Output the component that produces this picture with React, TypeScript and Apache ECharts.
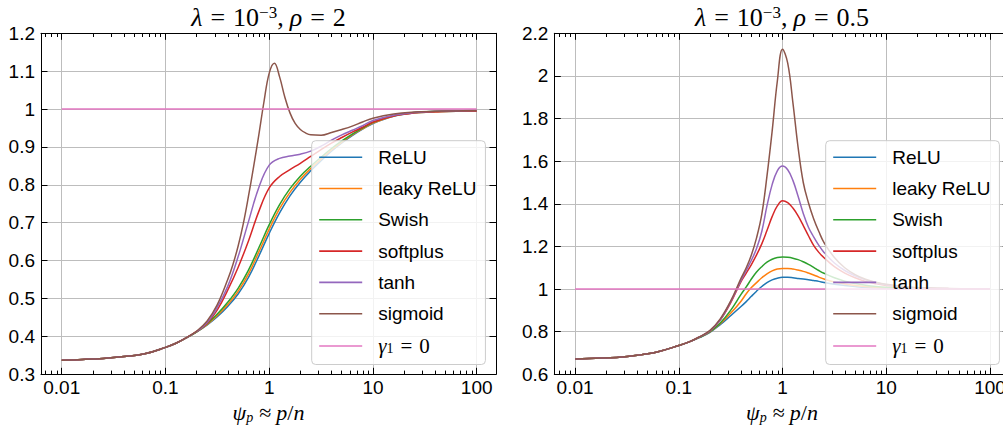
import React, { useEffect, useRef } from 'react';
import * as echarts from 'echarts';

// ---------- data ----------
const names = ['ReLU', 'leaky ReLU', 'Swish', 'softplus', 'tanh', 'sigmoid', 'γ1 = 0'];
const colors = ['#1f77b4', '#ff7f0e', '#2ca02c', '#d62728', '#9467bd', '#8c564b', '#e377c2'];

// psi sample points (coarse grid and fine grid around psi = 1)
const psiCoarse = [0.01, 0.0158, 0.0251, 0.0398, 0.0631, 0.1, 0.126, 0.158, 0.2, 0.251, 0.316, 0.398, 0.501, 0.631, 0.794, 1, 1.259, 1.585, 1.995, 2.512, 3.162, 3.981, 5.012, 6.31, 7.943, 10, 15.85, 25.12, 39.81, 63.1, 100];
const psiFine = [0.01, 0.0158, 0.0251, 0.0398, 0.0631, 0.1, 0.126, 0.158, 0.2, 0.251, 0.316, 0.398, 0.447, 0.501, 0.562, 0.631, 0.708, 0.794, 0.891, 1, 1.122, 1.259, 1.413, 1.585, 1.778, 1.995, 2.239, 2.512, 3.162, 3.981, 5.012, 6.31, 7.943, 10, 15.85, 25.12, 39.81, 63.1, 100];

// left panel: rho = 2 (coarse grid, sigmoid on fine grid)
const reluL = [0.337, 0.339, 0.342, 0.347, 0.354, 0.371, 0.382, 0.396, 0.412, 0.43, 0.452, 0.479, 0.512, 0.556, 0.612, 0.672, 0.726, 0.771, 0.807, 0.837, 0.864, 0.889, 0.911, 0.93, 0.947, 0.962, 0.981, 0.99, 0.993, 0.994, 0.995];
const leakyL = [0.337, 0.339, 0.342, 0.347, 0.354, 0.371, 0.382, 0.396, 0.412, 0.431, 0.455, 0.484, 0.519, 0.565, 0.623, 0.683, 0.737, 0.78, 0.815, 0.843, 0.868, 0.892, 0.913, 0.932, 0.948, 0.963, 0.982, 0.99, 0.993, 0.994, 0.995];
const swishL = [0.337, 0.339, 0.342, 0.347, 0.354, 0.371, 0.382, 0.396, 0.412, 0.433, 0.459, 0.49, 0.527, 0.575, 0.634, 0.695, 0.748, 0.79, 0.823, 0.849, 0.873, 0.896, 0.916, 0.934, 0.95, 0.965, 0.983, 0.991, 0.994, 0.995, 0.996];
const softplusL = [0.337, 0.339, 0.342, 0.347, 0.354, 0.371, 0.382, 0.396, 0.413, 0.434, 0.47, 0.522, 0.582, 0.652, 0.73, 0.792, 0.822, 0.84, 0.857, 0.875, 0.893, 0.91, 0.925, 0.939, 0.952, 0.966, 0.982, 0.99, 0.993, 0.995, 0.995];
const tanhL = [0.337, 0.339, 0.342, 0.347, 0.354, 0.371, 0.382, 0.396, 0.413, 0.436, 0.477, 0.532, 0.61, 0.703, 0.793, 0.852, 0.87, 0.876, 0.881, 0.889, 0.902, 0.918, 0.932, 0.944, 0.956, 0.97, 0.984, 0.991, 0.994, 0.995, 0.996];
const sigmoidL = [0.337, 0.339, 0.342, 0.347, 0.354, 0.371, 0.382, 0.396, 0.414, 0.44, 0.484, 0.55, 0.59, 0.638, 0.697, 0.77, 0.849, 0.932, 1.02, 1.095, 1.121, 1.085, 1.032, 0.99, 0.962, 0.946, 0.937, 0.932, 0.931, 0.938, 0.946, 0.955, 0.966, 0.976, 0.987, 0.992, 0.994, 0.995, 0.996];

// right panel: rho = 0.5 (fine grid)
const reluR = [0.672, 0.675, 0.679, 0.689, 0.706, 0.735, 0.752, 0.772, 0.797, 0.833, 0.875, 0.918, 0.941, 0.966, 0.99, 1.012, 1.03, 1.043, 1.051, 1.055, 1.055, 1.053, 1.05, 1.047, 1.044, 1.04, 1.036, 1.031, 1.023, 1.017, 1.012, 1.008, 1.006, 1.004, 1.002, 1.001, 1.0, 1.0, 1.0];
const leakyR = [0.672, 0.675, 0.679, 0.689, 0.706, 0.735, 0.752, 0.773, 0.799, 0.837, 0.886, 0.943, 0.978, 1.007, 1.03, 1.053, 1.071, 1.085, 1.094, 1.097, 1.097, 1.094, 1.089, 1.083, 1.075, 1.066, 1.056, 1.047, 1.033, 1.024, 1.017, 1.012, 1.009, 1.006, 1.003, 1.001, 1.0, 1.0, 1.0];
const swishR = [0.672, 0.675, 0.679, 0.689, 0.706, 0.735, 0.752, 0.773, 0.8, 0.841, 0.9, 0.975, 1.01, 1.047, 1.08, 1.105, 1.126, 1.14, 1.148, 1.15, 1.149, 1.145, 1.138, 1.128, 1.116, 1.102, 1.087, 1.074, 1.053, 1.037, 1.026, 1.018, 1.012, 1.008, 1.004, 1.002, 1.001, 1.0, 1.0];
const softplusR = [0.672, 0.675, 0.679, 0.689, 0.706, 0.735, 0.752, 0.775, 0.803, 0.854, 0.935, 1.035, 1.075, 1.115, 1.16, 1.212, 1.275, 1.34, 1.39, 1.414, 1.405, 1.38, 1.343, 1.298, 1.25, 1.205, 1.172, 1.147, 1.105, 1.075, 1.053, 1.036, 1.025, 1.017, 1.008, 1.004, 1.002, 1.001, 1.0];
const tanhR = [0.672, 0.675, 0.679, 0.689, 0.706, 0.735, 0.752, 0.775, 0.804, 0.856, 0.94, 1.04, 1.088, 1.135, 1.19, 1.27, 1.39, 1.49, 1.555, 1.577, 1.56, 1.51, 1.435, 1.355, 1.29, 1.245, 1.205, 1.172, 1.122, 1.087, 1.062, 1.043, 1.03, 1.02, 1.009, 1.004, 1.002, 1.001, 1.0];
const sigmoidR = [0.672, 0.675, 0.679, 0.689, 0.706, 0.735, 0.752, 0.776, 0.806, 0.86, 0.943, 1.05, 1.1, 1.16, 1.24, 1.35, 1.53, 1.74, 1.975, 2.125, 2.06, 1.875, 1.665, 1.5, 1.405, 1.33, 1.27, 1.218, 1.148, 1.1, 1.068, 1.046, 1.032, 1.022, 1.01, 1.005, 1.002, 1.001, 1.0];

// gamma_1 = 0 reference line
const gammaPsi = [0.01, 100];
const gammaY = [1, 1];

// axes
const xMin = 0.00631;
const xMax = 153.5;
const majorX = [0.01, 0.1, 1, 10, 100];
const minorX = [0.007, 0.008, 0.009, 0.02, 0.03, 0.04, 0.05, 0.06, 0.07, 0.08, 0.09, 0.2, 0.3, 0.4, 0.5, 0.6, 0.7, 0.8, 0.9, 2, 3, 4, 5, 6, 7, 8, 9, 20, 30, 40, 50, 60, 70, 80, 90];
const yLeft = { min: 0.3, max: 1.2, interval: 0.1 };
const yRight = { min: 0.6, max: 2.2, interval: 0.2 };

const titles = [
  '{i|λ}{eq|=}{n|10}{s|−3}{n|,}{i2|ρ}{eq|=}{n|2}',
  '{i|λ}{eq|=}{n|10}{s|−3}{n|,}{i2|ρ}{eq|=}{n|0.5}',
];
const xName = '{i|ψ}{b|p}{eq|≈}{i|p}{n|/}{i|n}';

// ---------- styling ----------
const SANS = '"Liberation Sans", Arial, sans-serif';
const SERIF = '"Liberation Serif", "DejaVu Serif", serif';
const BLACK = '#000';
const GRID_COLOR = '#bdbdbd';

const grids = [
  { left: 41, top: 33.3, width: 455, height: 341 },
  { left: 554.3, top: 33.3, width: 455, height: 341 },
];

function buildOption() {
  const xAxis: any[] = [];
  const yAxis: any[] = [];
  const series: any[] = [];
  const legend: any[] = [];
  const graphic: any[] = [];

  const panels = [
    {
      y: yLeft,
      lines: [
        { psi: psiCoarse, ys: reluL },
        { psi: psiCoarse, ys: leakyL },
        { psi: psiCoarse, ys: swishL },
        { psi: psiCoarse, ys: softplusL },
        { psi: psiCoarse, ys: tanhL },
        { psi: psiFine, ys: sigmoidL },
      ],
      titleX: 268.5,
      legendX: 311.7,
    },
    {
      y: yRight,
      lines: [
        { psi: psiFine, ys: reluR },
        { psi: psiFine, ys: leakyR },
        { psi: psiFine, ys: swishR },
        { psi: psiFine, ys: softplusR },
        { psi: psiFine, ys: tanhR },
        { psi: psiFine, ys: sigmoidR },
      ],
      titleX: 782,
      legendX: 825.7,
    },
  ];

  panels.forEach((p, g) => {
    const tickLine = { color: BLACK, width: 1 };
    const baseX = { type: 'log', logBase: 10, gridIndex: g, min: xMin, max: xMax };
    xAxis.push({
      ...baseX,
      position: 'bottom',
      axisLine: { show: true, onZero: false, lineStyle: { color: BLACK, width: 1 } },
      axisTick: { show: true, inside: true, length: 6.5, customValues: majorX, lineStyle: tickLine },
      axisLabel: { show: true, customValues: majorX, margin: 4, fontSize: 19, fontFamily: SANS, color: BLACK },
      splitLine: { show: true, lineStyle: { color: GRID_COLOR, width: 1 } },
      minorTick: { show: false },
      minorSplitLine: { show: false },
    });
    xAxis.push({
      ...baseX,
      position: 'bottom',
      axisLine: { show: false, onZero: false },
      axisTick: { show: true, inside: true, length: 3.7, customValues: minorX, lineStyle: tickLine },
      axisLabel: { show: false },
      splitLine: { show: false },
    });
    xAxis.push({
      ...baseX,
      position: 'top',
      axisLine: { show: true, onZero: false, lineStyle: { color: BLACK, width: 1 } },
      axisTick: { show: true, inside: true, length: 6.5, customValues: majorX, lineStyle: tickLine },
      axisLabel: { show: false },
      splitLine: { show: false },
    });
    xAxis.push({
      ...baseX,
      position: 'top',
      axisLine: { show: false, onZero: false },
      axisTick: { show: true, inside: true, length: 3.7, customValues: minorX, lineStyle: tickLine },
      axisLabel: { show: false },
      splitLine: { show: false },
    });

    yAxis.push({
      type: 'value',
      gridIndex: g,
      position: 'left',
      min: p.y.min,
      max: p.y.max,
      interval: p.y.interval,
      axisLine: { show: true, onZero: false, lineStyle: { color: BLACK, width: 1 } },
      axisTick: { show: true, inside: true, length: 6.5, lineStyle: tickLine },
      axisLabel: { show: true, margin: 6, fontSize: 19, fontFamily: SANS, color: BLACK },
      splitLine: { show: true, lineStyle: { color: GRID_COLOR, width: 1 } },
    });
    yAxis.push({
      type: 'value',
      gridIndex: g,
      position: 'right',
      min: p.y.min,
      max: p.y.max,
      interval: p.y.interval,
      axisLine: { show: true, onZero: false, lineStyle: { color: BLACK, width: 1 } },
      axisTick: { show: true, inside: true, length: 6.5, lineStyle: tickLine },
      axisLabel: { show: false },
      splitLine: { show: false },
    });

    p.lines.forEach((ln, k) => {
      series.push({
        type: 'line',
        name: names[k],
        xAxisIndex: g * 4,
        yAxisIndex: g * 2,
        data: ln.psi.map((x, i) => [x, ln.ys[i]]),
        symbol: 'none',
        showSymbol: false,
        smooth: 0.4,
        lineStyle: { width: 1.5, color: colors[k] },
        itemStyle: { color: colors[k] },
        emphasis: { disabled: true },
      });
    });
    series.push({
      type: 'line',
      name: names[6],
      xAxisIndex: g * 4,
      yAxisIndex: g * 2,
      data: gammaPsi.map((x, i) => [x, gammaY[i]]),
      symbol: 'none',
      showSymbol: false,
      lineStyle: { width: 1.5, color: colors[6] },
      itemStyle: { color: colors[6] },
      emphasis: { disabled: true },
    });

    legend.push({
      orient: 'vertical',
      left: p.legendX,
      top: 140.7,
      data: names,
      icon: 'rect',
      itemWidth: 43,
      itemHeight: 1.6,
      itemGap: 12.3,
      padding: [7, 9, 8, 7.5],
      backgroundColor: 'rgba(255,255,255,0.8)',
      borderColor: '#cccccc',
      borderWidth: 1,
      borderRadius: 4,
      selectedMode: false,
      formatter: (name: string) => (name === 'γ1 = 0' ? '{g|γ}{sb|1}{eq|=}{e|0}' : '{t|' + name + '}'),
      textStyle: {
        fontSize: 19,
        fontFamily: SANS,
        color: BLACK,
        lineHeight: 19,
        rich: {
          t: { fontSize: 19, fontFamily: SANS, color: BLACK, lineHeight: 19, padding: [0, 0, 0, 11] },
          g: { fontSize: 21, fontFamily: SERIF, fontStyle: 'italic', color: BLACK, lineHeight: 19, padding: [0, 0, 0, 11] },
          sb: { fontSize: 14, fontFamily: SERIF, color: BLACK, lineHeight: 12, verticalAlign: 'bottom' },
          eq: { fontSize: 21, fontFamily: SERIF, color: BLACK, lineHeight: 19, padding: [0, 7, 0, 7] },
          e: { fontSize: 21, fontFamily: SERIF, color: BLACK, lineHeight: 19 },
        },
      },
    });

    graphic.push({
      type: 'text',
      x: p.titleX,
      y: 17,
      style: {
        text: titles[g],
        align: 'center',
        verticalAlign: 'middle',
        textAlign: 'center',
        textVerticalAlign: 'middle',
        fill: BLACK,
        rich: {
          i: { fontSize: 26, fontFamily: SERIF, fontStyle: 'italic', lineHeight: 26, fill: BLACK },
          i2: { fontSize: 26, fontFamily: SERIF, fontStyle: 'italic', lineHeight: 26, fill: BLACK, padding: [0, 0, 0, 6] },
          n: { fontSize: 26, fontFamily: SERIF, lineHeight: 26, fill: BLACK },
          eq: { fontSize: 26, fontFamily: SERIF, lineHeight: 26, fill: BLACK, padding: [0, 8, 0, 8] },
          s: { fontSize: 17, fontFamily: SERIF, lineHeight: 15, verticalAlign: 'top', fill: BLACK },
        },
      },
    });
    graphic.push({
      type: 'text',
      x: p.titleX,
      y: 412,
      style: {
        text: xName,
        align: 'center',
        verticalAlign: 'middle',
        textAlign: 'center',
        textVerticalAlign: 'middle',
        fill: BLACK,
        rich: {
          i: { fontSize: 22, fontFamily: SERIF, fontStyle: 'italic', lineHeight: 24, fill: BLACK },
          n: { fontSize: 22, fontFamily: SERIF, lineHeight: 24, fill: BLACK },
          eq: { fontSize: 22, fontFamily: SERIF, lineHeight: 24, fill: BLACK, padding: [0, 5, 0, 6] },
          b: { fontSize: 14, fontFamily: SERIF, fontStyle: 'italic', lineHeight: 14, verticalAlign: 'bottom', fill: BLACK },
        },
      },
    });
  });

  return {
    animation: false,
    backgroundColor: '#ffffff',
    grid: grids.map((gr) => ({ ...gr, containLabel: false, outerBoundsMode: 'none' })),
    xAxis,
    yAxis,
    series,
    legend,
    graphic,
    tooltip: { show: false },
  };
}

export default function App() {
  const ref = useRef<HTMLDivElement>(null);
  useEffect(() => {
    document.body.style.margin = '0';
    document.body.style.padding = '0';
    if (!ref.current) return;
    const chart = echarts.init(ref.current, null, { renderer: 'svg' });
    chart.setOption(buildOption() as any);
    return () => {
      chart.dispose();
    };
  }, []);
  return (
    <div
      ref={ref}
      style={{ position: 'absolute', left: 0, top: 0, width: 1003, height: 430, background: '#fff' }}
    />
  );
}
